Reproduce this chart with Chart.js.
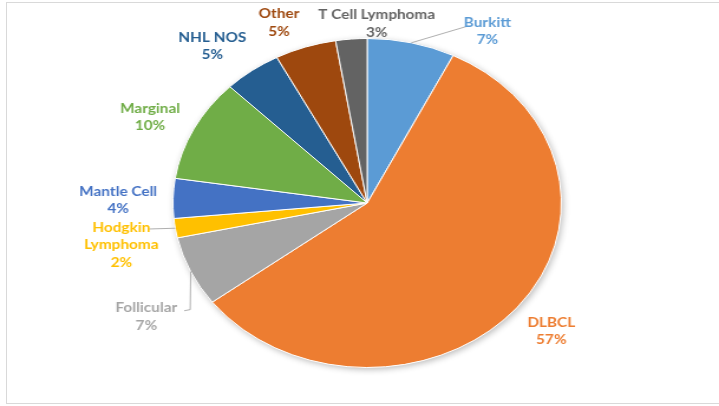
<!DOCTYPE html>
<html>
<head>
<meta charset="utf-8">
<script src="https://cdn.jsdelivr.net/npm/chart.js@4/dist/chart.umd.min.js"></script>
<style>
  html, body { margin: 0; padding: 0; background: #fff; overflow: hidden; }
  #frame {
    position: absolute; left: 6px; top: 2px; width: 760px; height: 400px;
    border: 1px solid #d9d9d9;
  }
  /* the source picture is stretched sideways, so the pie is drawn round and then widened */
  #wrap {
    position: absolute; left: 0; top: 0; width: 609px; height: 406px;
    transform: scaleX(1.1806); transform-origin: 0 0;
  }
</style>
</head>
<body>
<div id="frame"></div>
<div id="wrap"><canvas id="myChart"></canvas></div>
<script>
const categories = ["Burkitt", "DLBCL", "Follicular", ["Hodgkin", "Lymphoma"], "Mantle Cell",
	"Marginal", "NHL NOS", "Other", "T Cell Lymphoma"];
const shares = [7.3, 57.4, 6.9, 1.9, 3.9, 10.1, 4.8, 5.1, 2.6];
const colors = ["#5B9BD5", "#ED7D31", "#A5A5A5", "#FFC000", "#4472C4",
	"#70AD47", "#255E91", "#9E480E", "#636363"];

// label block centres, in units of the pie radius from its centre
const labelSpots = [
	[0.619, -1.045], [0.948, 0.779], [-1.137, 0.691], [-1.266, 0.255], [-1.282, -0.015],
	[-1.118, -0.521], [-0.798, -0.952], [-0.454, -1.094], [0.049, -1.088],
];
// leader lines: from the slice edge through these points (same units)
const leaders = {
	0: [[0.511, -1.073]],
	2: [[-0.911, 0.648], [-0.942, 0.655]],
	3: [[-1.123, 0.158]],
};

const lineH = 17.5;

const sliceLabels = {
	id: "sliceLabels",
	beforeDatasetsDraw(chart) {
		// soft shadow under the whole pie
		const arc = chart.getDatasetMeta(0).data[0];
		const ctx = chart.ctx;
		ctx.save();
		ctx.shadowColor = "rgba(0,0,0,0.28)";
		ctx.shadowBlur = 6;
		ctx.shadowOffsetX = 1.5;
		ctx.shadowOffsetY = 2;
		ctx.fillStyle = "#fff";
		ctx.beginPath();
		ctx.arc(arc.x, arc.y, arc.outerRadius, 0, Math.PI * 2);
		ctx.fill();
		ctx.restore();
	},
	afterDatasetsDraw(chart) {
		const ctx = chart.ctx;
		const total = shares.reduce((a, b) => a + b, 0);
		chart.getDatasetMeta(0).data.forEach((arc, i) => {
			const r = arc.outerRadius;
			ctx.save();
			if (leaders[i]) {
				const mid = (arc.startAngle + arc.endAngle) / 2;
				ctx.beginPath();
				ctx.moveTo(arc.x + Math.cos(mid) * r, arc.y + Math.sin(mid) * r);
				leaders[i].forEach((p) => ctx.lineTo(arc.x + p[0] * r, arc.y + p[1] * r));
				ctx.strokeStyle = "#a6a6a6";
				ctx.lineWidth = 0.9;
				ctx.stroke();
			}
			const lx = arc.x + labelSpots[i][0] * r;
			const ly = arc.y + labelSpots[i][1] * r;
			const lines = [].concat(categories[i], Math.round((shares[i] * 100) / total) + "%");
			ctx.font = "bold 13px Lato";
			ctx.fillStyle = colors[i];
			ctx.textAlign = "center";
			ctx.textBaseline = "middle";
			lines.forEach((t, k) => {
				ctx.fillText(t, lx, ly + (k - (lines.length - 1) / 2) * lineH);
			});
			ctx.restore();
		});
	},
};

const ctx = document.getElementById("myChart").getContext("2d");
new Chart(ctx, {
	type: "pie",
	data: {
		labels: categories,
		datasets: [{
			data: shares,
			backgroundColor: colors,
			borderColor: "#ffffff",
			borderWidth: 1,
		}],
	},
	options: {
		responsive: true,
		maintainAspectRatio: false,
		animation: false,
		layout: { padding: { top: 38, bottom: 38, left: 146, right: 133 } },
		plugins: {
			legend: { display: false },
			tooltip: { enabled: false },
		},
	},
	plugins: [sliceLabels],
});
</script>
</body>
</html>
